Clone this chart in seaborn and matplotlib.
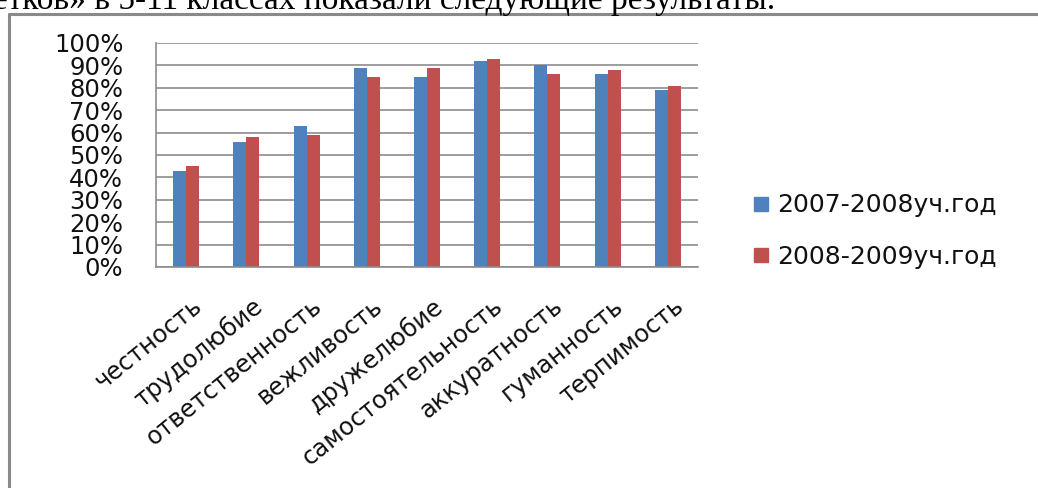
import matplotlib
matplotlib.use("Agg")
import matplotlib.pyplot as plt
import matplotlib.transforms as mtransforms
import seaborn as sns
import pandas as pd
import numpy as np
from matplotlib.lines import Line2D

categories = ["честность", "трудолюбие", "ответственность", "вежливость",
              "дружелюбие", "самостоятельность", "аккуратность", "гуманность",
              "терпимость"]
series_names = ["2007-2008уч.год", "2008-2009уч.год"]
values_2007 = [43, 56, 63, 89, 85, 92, 90, 86, 79]
values_2008 = [45, 58, 59, 85, 89, 93, 86, 88, 81]
y_ticks = [0, 10, 20, 30, 40, 50, 60, 70, 80, 90, 100]
y_tick_labels = [f"{v}%" for v in y_ticks]
header_text = "етков» в 5-11 классах показали следующие результаты."
colors = ["#4F81BD", "#C0504D"]

df = pd.DataFrame({
    "category": categories * 2,
    "value": values_2007 + values_2008,
    "series": [series_names[0]] * len(categories) + [series_names[1]] * len(categories),
})

sns.set_theme(style="white")
plt.rcParams['font.family'] = ['DejaVu Sans']

W, H = 1038, 488
fig = plt.figure(figsize=(W / 100, H / 100), dpi=100)
ax = fig.add_axes([156 / W, 1 - 267 / H, (698 - 156) / W, (267 - 43) / H])

sns.barplot(data=df, x="category", y="value", hue="series", order=categories,
            hue_order=series_names, palette=colors, width=0.43, saturation=1,
            edgecolor="none", linewidth=0, ax=ax, legend=False)

grid_c = "#8c8c8c"
txt_c = "#111111"
ax.set_xlim(-0.5, len(categories) - 0.5)
ax.set_ylim(0, 100)
ax.set_yticks(y_ticks)
ax.set_yticklabels(y_tick_labels, fontsize=17.5, color=txt_c)
ax.yaxis.grid(True, color=grid_c, linewidth=1.2)
ax.set_axisbelow(True)
for s in ["top", "right"]:
    ax.spines[s].set_visible(False)
for s in ["left", "bottom"]:
    ax.spines[s].set_color(grid_c)
    ax.spines[s].set_linewidth(1.2)
ax.tick_params(axis="y", direction="out", length=6.5, width=1.2, color=grid_c, pad=17)
ax.set_xticks(range(len(categories)))
ax.set_xticklabels(categories, rotation=39, ha="right", rotation_mode="anchor",
                   fontsize=17.5, color=txt_c)
ax.tick_params(axis="x", which="major", length=0, pad=19)
ax.set_xticks(np.arange(-0.5, len(categories), 1.0), minor=True)
ax.tick_params(axis="x", which="minor", direction="out", length=6, width=1.2, color=grid_c)
shift = mtransforms.ScaledTranslation(5 / 100, 0, fig.dpi_scale_trans)
for lbl in ax.get_xticklabels():
    lbl.set_transform(lbl.get_transform() + shift)
ax.set_xlabel("")
ax.set_ylabel("")

handles = [Line2D([0], [0], marker="s", linestyle="none", markersize=10.5,
                  markerfacecolor=c, markeredgecolor=c) for c in colors]
fig.legend(handles, series_names, loc="center left",
           bbox_to_anchor=(726 / W, 1 - 231 / H), frameon=False, fontsize=18,
           handletextpad=0.15, labelspacing=1.1, handlelength=1.0,
           labelcolor=txt_c)

# outer frame (top and left edges visible)
fig.add_artist(Line2D([9 / W, 9 / W], [-0.05, 1 - 14 / H], transform=fig.transFigure,
                      color="#8a8a8a", linewidth=2.2))
fig.add_artist(Line2D([9 / W, 1.05], [1 - 14 / H, 1 - 14 / H], transform=fig.transFigure,
                      color="#8a8a8a", linewidth=2.2))

fig.text(775 / W, 1 - 9 / H, header_text, ha="right", va="baseline",
         fontsize=24, family="Liberation Serif", color="black")

fig.savefig("out.png", dpi=100)
